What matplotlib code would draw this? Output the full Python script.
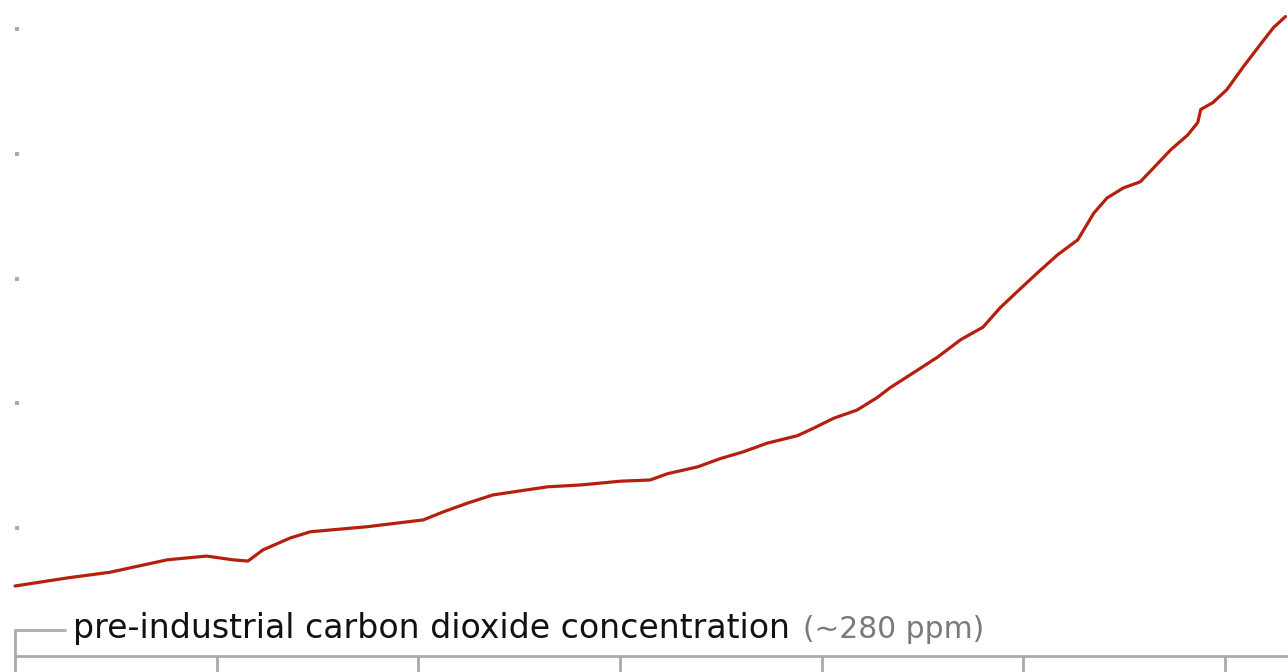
import matplotlib
matplotlib.use("Agg")
import matplotlib.pyplot as plt

# ---- data ----
years = [1880.0, 1885.2, 1889.4, 1895.1, 1899.0, 1901.6, 1903.1, 1904.6, 1907.3, 1909.3,
         1914.9, 1920.5, 1922.5, 1924.9, 1927.4, 1932.8, 1936.1, 1940.0, 1943.0, 1944.7,
         1947.7, 1949.9, 1952.2, 1954.6, 1957.6, 1959.2, 1961.2, 1963.5, 1965.5, 1966.8,
         1969.5, 1971.5, 1973.8, 1976.0, 1977.7, 1979.4, 1981.4, 1983.4, 1985.4, 1987.0,
         1988.3, 1989.9, 1991.6, 1992.9, 1994.6, 1996.3, 1997.3, 1997.6, 1998.8, 2000.2,
         2001.8, 2003.5, 2004.8, 2006.0]
co2_ppm = [290.7, 292.0, 292.9, 294.9, 295.5, 294.9, 294.7, 296.5, 298.4, 299.4,
           300.2, 301.3, 302.6, 304.0, 305.3, 306.6, 306.9, 307.5, 307.7, 308.7,
           309.8, 311.1, 312.2, 313.6, 314.8, 316.0, 317.6, 318.9, 320.9, 322.5,
           325.3, 327.4, 330.2, 332.2, 335.3, 337.9, 340.9, 343.8, 346.2, 350.5,
           352.9, 354.5, 355.5, 357.7, 360.6, 363.0, 365.0, 367.1, 368.2, 370.3,
           373.9, 377.5, 380.2, 382.0]
year_ticks = [1880, 1900, 1920, 1940, 1960, 1980, 2000]
ppm_ticks = [300, 320, 340, 360, 380]
label_main = "pre-industrial carbon dioxide concentration"
label_value = "(~280 ppm)"

# ---- layout ----
W, H = 1288, 672
fig = plt.figure(figsize=(W / 100, H / 100), dpi=100)
ax = fig.add_axes([0, 0, 1, 1])
ax.axis("off")

PX_YEAR = 10.083   # pixels per year
PX_PPM = 6.2375    # pixels per ppm
X0, Y0 = 15, 528   # pixel position of 1880 / 300 ppm


def px2x(px):
    return 1880 + (px - X0) / PX_YEAR


def px2y(py):
    return 300 + (Y0 - py) / PX_PPM


ax.set_xlim(px2x(0), px2x(W))
ax.set_ylim(px2y(H), px2y(0))

grey = "#aaaaaa"
axis_y = px2y(655.5)
bottom = px2y(H + 5)

# bottom axis line and ticks
ax.plot([year_ticks[0], px2x(W + 5)], [axis_y, axis_y], color=grey, lw=2.0,
        solid_capstyle="butt", clip_on=False)
for yr in year_ticks:
    ax.plot([yr, yr], [bottom, axis_y], color=grey, lw=2.0, solid_capstyle="butt",
            clip_on=False)

# bracket for the pre-industrial label
bracket_y = px2y(629.5)
ax.plot([year_ticks[0], year_ticks[0], px2x(66)], [axis_y, bracket_y, bracket_y],
        color=grey, lw=2.0, solid_capstyle="butt", solid_joinstyle="miter")

# left tick marks (small squares)
ax.plot([px2x(16.5)] * len(ppm_ticks), ppm_ticks, linestyle="none", marker="s",
        markersize=2.6, color=grey, markeredgewidth=0)

# data line
ax.plot(years, co2_ppm, color="#b5200e", lw=2.3, solid_capstyle="round",
        solid_joinstyle="round")

# labels
fig.canvas.draw()
renderer = fig.canvas.get_renderer()


def fit_text(x_px, text, width_px, color, size0=20):
    t = ax.text(px2x(x_px), px2y(638), text, fontsize=size0, color=color,
                family="DejaVu Sans", va="baseline", ha="left")
    w = t.get_window_extent(renderer).width
    t.set_fontsize(size0 * width_px / w)
    return t


fit_text(73, label_main, 717, "#111111")
fit_text(803, label_value, 181, "#7a7a7a")

fig.savefig("out.png", dpi=100)
